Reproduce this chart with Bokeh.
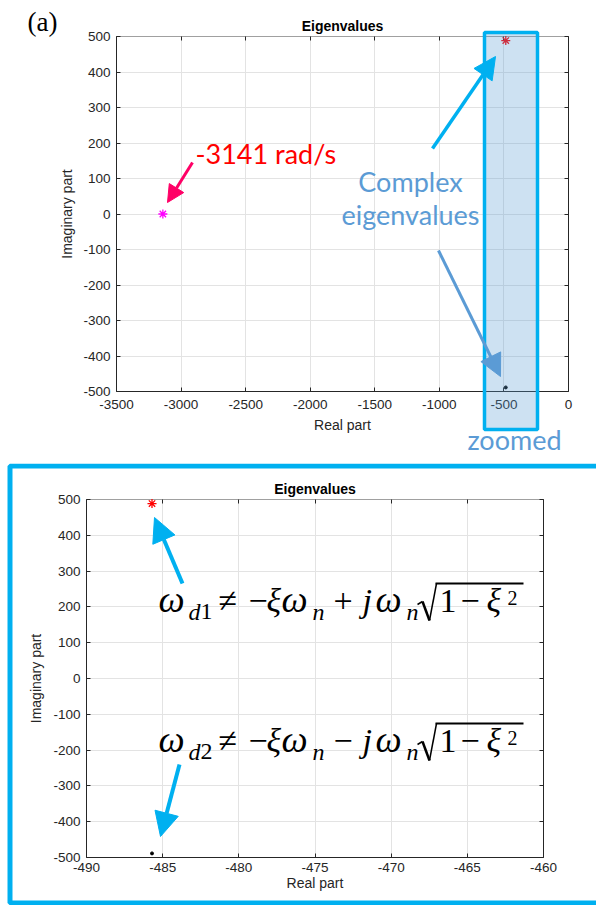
from bokeh.plotting import figure
from bokeh.models import (Range1d, FixedTicker, LinearAxis, Label, Arrow, NormalHead,
                          BoxAnnotation, Grid)
from bokeh.layouts import column
from bokeh.embed import file_html
from bokeh.resources import INLINE

# ---------------- data ----------------
real_pole_re = [-3141.0]
real_pole_im = [0.0]
upper_pole_re = [-485.7]
upper_pole_im = [488.6]
lower_pole_re = [-485.7]
lower_pole_im = [-488.6]

top_xlim = (-3500, 0)
bot_xlim = (-490, -460)
ylim = (-500, 500)
top_xticks = [-3500, -3000, -2500, -2000, -1500, -1000, -500, 0]
top_xtick_labels = ["-3500", "-3000", "-2500", "-2000", "-1500", "-1000", "-500", "0"]
yticks = [-500, -400, -300, -200, -100, 0, 100, 200, 300, 400, 500]
ytick_labels = ["-500", "-400", "-300", "-200", "-100", "0", "100", "200", "300", "400", "500"]
bot_xticks = [-490, -485, -480, -475, -470, -465, -460]
bot_xtick_labels = ["-490", "-485", "-480", "-475", "-470", "-465", "-460"]

TXT = "#262626"
GRID = "#e3e3e3"
CYAN = "#00b0f0"
STEEL = "#5b9bd5"
PINK = "#ff0066"
CAL = "Lato"
W = 596
BASE_K = 0.37  # baseline correction (fraction of font size)


def mapper(p0, p1, d0, d1):
    return lambda px: d0 + (px - p0) / (p1 - p0) * (d1 - d0)


def make_panel(height, box, xlim, xticks, xlabels, std):
    l, r, t, b = box
    fx = mapper(l, r, xlim[0], xlim[1])
    fy = mapper(t, b, ylim[1], ylim[0])
    p = figure(width=W, height=height,
               x_range=Range1d(fx(0), fx(W)), y_range=Range1d(fy(height), fy(0)),
               output_backend="svg", toolbar_location=None,
               x_axis_location=None, y_axis_location=None,
               min_border=0, min_border_left=0, min_border_right=0,
               min_border_top=0, min_border_bottom=0)
    p.outline_line_color = None
    p.background_fill_color = "white"
    p.border_fill_color = "white"
    p.xgrid.visible = False
    p.ygrid.visible = False

    dx4 = abs(fx(4) - fx(0))
    dy4 = abs(fy(4) - fy(0))
    # grid
    p.add_layout(Grid(dimension=0, ticker=FixedTicker(ticks=xticks), grid_line_color=GRID, cross_bounds=ylim))
    p.add_layout(Grid(dimension=1, ticker=FixedTicker(ticks=yticks), grid_line_color=GRID, cross_bounds=xlim))
    # box: top (grey) and right lines, with inward ticks
    p.add_layout(Grid(dimension=1, ticker=FixedTicker(ticks=[ylim[1]]), grid_line_color="#a0a0a0",
                      cross_bounds=xlim))
    p.add_layout(Grid(dimension=0, ticker=FixedTicker(ticks=[xlim[1]]), grid_line_color=TXT,
                      cross_bounds=ylim))
    p.add_layout(Grid(dimension=0, ticker=FixedTicker(ticks=xticks), grid_line_color=TXT,
                      cross_bounds=(ylim[1] - dy4, ylim[1])))
    p.add_layout(Grid(dimension=1, ticker=FixedTicker(ticks=yticks), grid_line_color=TXT,
                      cross_bounds=(xlim[1] - dx4, xlim[1])))

    def common(ax):
        ax.axis_line_color = TXT
        ax.major_tick_line_color = TXT
        ax.major_tick_in = 4
        ax.major_tick_out = 0
        ax.minor_tick_line_color = None
        ax.major_label_text_font = "Liberation Sans"
        ax.major_label_text_font_size = "13.5px"
        ax.major_label_text_color = TXT
        ax.axis_label_text_font = "Liberation Sans"
        ax.axis_label_text_font_size = "14px"
        ax.axis_label_text_font_style = "normal"
        ax.axis_label_text_color = TXT

    xb = LinearAxis(fixed_location=ylim[0], bounds=xlim, ticker=FixedTicker(ticks=xticks),
                    major_label_overrides={k: v for k, v in zip(xticks, xlabels)},
                    axis_label="Real part")
    common(xb)
    xb.major_label_standoff = std[0]
    xb.axis_label_standoff = std[1]
    yl = LinearAxis(fixed_location=xlim[0], bounds=ylim, ticker=FixedTicker(ticks=yticks),
                    major_label_overrides={k: v for k, v in zip(yticks, ytick_labels)},
                    axis_label="Imaginary part")
    common(yl)
    yl.major_label_standoff = 6
    yl.axis_label_standoff = std[2]
    p.add_layout(xb, "below")
    p.add_layout(yl, "left")

    p.scatter(real_pole_re, real_pole_im, marker="asterisk", size=9, line_color="#ff00ff", line_width=1.3)
    p.scatter(upper_pole_re, upper_pole_im, marker="asterisk", size=9, line_color="#ff0000", line_width=1.3)
    p.scatter(lower_pole_re, lower_pole_im, marker="circle", size=3, fill_color="black", line_color="black")
    return p, fx, fy


def lab(p, fx, fy, ix, iy, text, size=14, **kw):
    opts = dict(text_align="left", text_baseline="alphabetic", text_font="Liberation Sans",
                text_font_size=f"{size}px", text_color="black")
    opts.update(kw)
    p.add_layout(Label(x=fx(ix), y=fy(iy - BASE_K * size), text=text, **opts))


def arrow(p, fx, fy, a, b, color, lw, head):
    p.add_layout(Arrow(x_start=fx(a[0]), y_start=fy(a[1]), x_end=fx(b[0]), y_end=fy(b[1]),
                       line_color=color, line_width=lw,
                       end=NormalHead(size=head, fill_color=color, line_color=color, line_width=1)))


def seg(p, fx, fy, a, b, lw, color="black"):
    p.add_layout(Arrow(x_start=fx(a[0]), y_start=fy(a[1]), x_end=fx(b[0]), y_end=fy(b[1]),
                       line_color=color, line_width=lw, end=None))


# ---------------- top panel (page y 0..463) ----------------
TOP_H = 463
p1, tx, ty = make_panel(TOP_H, (116, 568, 36, 391), top_xlim, top_xticks, top_xtick_labels, (8, 5, 5))

p1.add_layout(BoxAnnotation(left=tx(484), right=tx(537), top=ty(32), bottom=ty(429),
                            fill_color=STEEL, fill_alpha=0.3, line_color=CYAN, line_alpha=1,
                            line_width=3.5))

lab(p1, tx, ty, 342, 31, "Eigenvalues", text_align="center", text_font_style="bold")
lab(p1, tx, ty, 27, 31, "(a)", size=27, text_font="Liberation Serif")
lab(p1, tx, ty, 195, 163, "-3141 rad/s", size=27, text_font=CAL, text_color="#ff0000")
lab(p1, tx, ty, 410, 191, "Complex", size=27, text_align="center", text_font=CAL, text_color=STEEL)
lab(p1, tx, ty, 410, 224, "eigenvalues", size=27, text_align="center", text_font=CAL, text_color=STEEL)
lab(p1, tx, ty, 514, 449, "zoomed", size=27, text_align="center", text_font=CAL, text_color=STEEL)

arrow(p1, tx, ty, (192, 162), (167, 202), PINK, 3, 17)
arrow(p1, tx, ty, (432, 148), (495, 56), CYAN, 3.5, 22)
arrow(p1, tx, ty, (438, 250), (500, 376), STEEL, 3, 22)

# ---------------- bottom panel (page y 463..905) ----------------
BOT_H = 442
Y0 = TOP_H
p2, bx0, by0 = make_panel(BOT_H, (86, 543, 499 - Y0, 857 - Y0), bot_xlim, bot_xticks, bot_xtick_labels, (5, 0, 6))


def bx(ix):
    return bx0(ix)


def by(iy):
    return by0(iy - Y0)


p2.add_layout(BoxAnnotation(left=bx(9.5), right=bx(640), top=by(465.5), bottom=by(902.5),
                            fill_color=None, fill_alpha=0, line_color=CYAN, line_alpha=1,
                            line_width=5))

lab(p2, bx, by, (86 + 543) / 2, 494, "Eigenvalues", text_align="center", text_font_style="bold")

arrow(p2, bx, by, (182, 583), (154, 517), CYAN, 4, 24)
arrow(p2, bx, by, (179, 764), (160, 836), CYAN, 4, 24)


def formula(p, base, sign, idx):
    d = base - 613
    S = "Liberation Serif"
    pieces = [
        ("\u03c9", 158, "italic", 37, 0),
        ("d", 188, "italic", 24, 7),
        (idx, 200, "normal", 24, 7),
        ("\u2260", 218, "normal", 34, 0),
        ("\u2212", 248, "normal", 34, 0),
        ("\u03be", 266, "italic", 34, 0),
        ("\u03c9", 281, "italic", 37, 0),
        ("n", 312, "italic", 24, 7),
        (sign, 333, "normal", 34, 0),
        ("j", 362, "italic", 34, 0),
        ("\u03c9", 375, "italic", 37, 0),
        ("n", 406, "italic", 24, 7),
        ("1", 439, "normal", 34, 0),
        ("\u2212", 460, "normal", 34, 0),
        ("\u03be", 486, "italic", 34, 0),
        ("2", 507, "normal", 20, -8),
    ]
    for text, ix, st, size, off in pieces:
        lab(p, bx, by, ix, base + off, text, size=size, text_font=S, text_font_style=st)
    seg(p, bx, by, (417, 604 + d), (422, 601 + d), 1.5)
    seg(p, bx, by, (422, 601 + d), (429, 620 + d), 2.5)
    seg(p, bx, by, (429, 620 + d), (436, 583 + d), 1.5)
    seg(p, bx, by, (435, 583 + d), (523, 583 + d), 2)


formula(p2, 613, "+", "1")
formula(p2, 753, "\u2212", "2")

layout = column(p1, p2)
open("out.html", "w").write(file_html(layout, INLINE))
